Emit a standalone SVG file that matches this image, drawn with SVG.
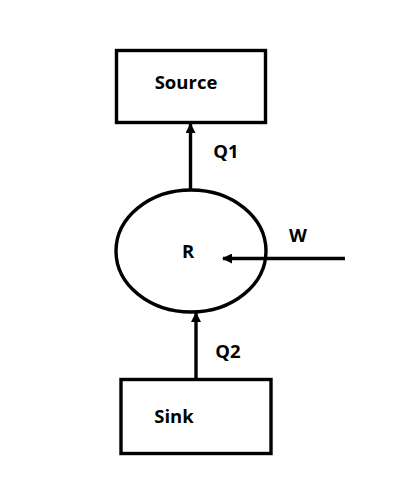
<svg xmlns="http://www.w3.org/2000/svg" width="402" height="495" viewBox="0 0 402 495">
<style>
.s{fill:none;stroke:#000;stroke-width:3.4}
.t{font-family:"Open Sans","Liberation Sans",sans-serif;font-weight:bold;font-size:18.5px;fill:#000}
</style>
<defs>
<marker id="ah" markerWidth="10" markerHeight="10" refX="9" refY="5" orient="auto" markerUnits="userSpaceOnUse">
<path d="M0,0 L10,5 L0,10 z" fill="#000"/>
</marker>
</defs>
<rect width="402" height="495" fill="#fff"/>
<g id="source">
<rect class="s" x="116.5" y="50.5" width="149" height="72"/>
<text class="t" x="186" y="89" text-anchor="middle">Source</text>
</g>
<g id="r">
<ellipse class="s" cx="191" cy="251" rx="75" ry="61"/>
<text class="t" x="188" y="258" text-anchor="middle">R</text>
</g>
<g id="sink">
<rect class="s" x="121" y="379.5" width="150" height="74"/>
<text class="t" x="174" y="423" text-anchor="middle">Sink</text>
</g>
<g id="connectors">
<line class="s" x1="190.5" y1="190" x2="190.5" y2="124" marker-end="url(#ah)"/>
<line class="s" x1="196" y1="379" x2="196" y2="313" marker-end="url(#ah)"/>
<line class="s" x1="345" y1="258.5" x2="223" y2="258.5" marker-end="url(#ah)"/>
<text class="t" x="226" y="158" text-anchor="middle">Q1</text>
<text class="t" x="228" y="358" text-anchor="middle">Q2</text>
<text class="t" x="298" y="242" text-anchor="middle">W</text>
</g>
</svg>
